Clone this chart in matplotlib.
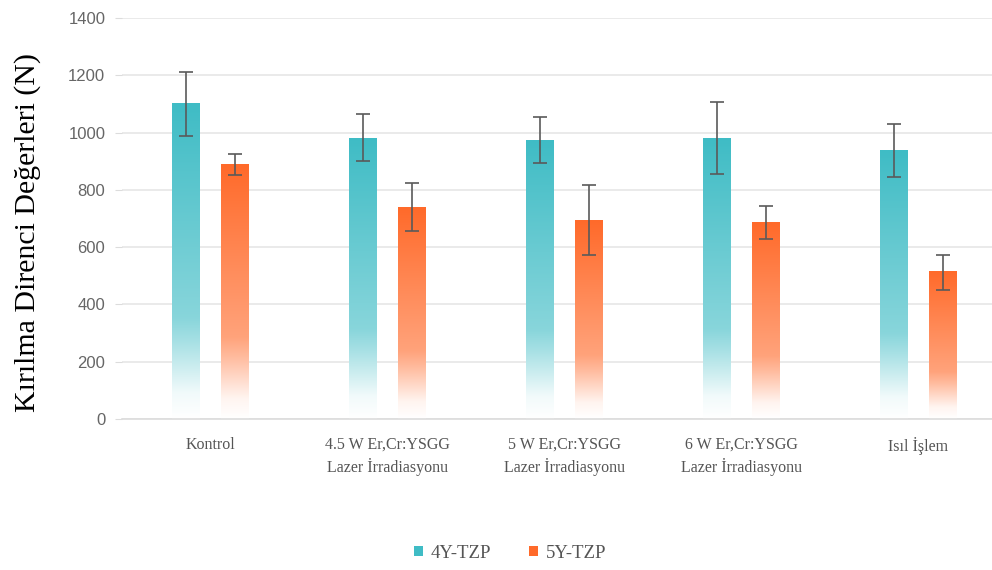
import numpy as np
import matplotlib
matplotlib.use("Agg")
import matplotlib.pyplot as plt
from matplotlib.colors import to_rgb
from matplotlib.patches import Patch

# okunan degerler
kategoriler = ["Kontrol", "4.5 W Er,Cr:YSGG\nLazer İrradiasyonu",
               "5 W Er,Cr:YSGG\nLazer İrradiasyonu",
               "6 W Er,Cr:YSGG\nLazer İrradiasyonu", "Isıl İşlem"]
tzp4_ort = [1100, 980, 972, 980, 936]
tzp4_ust = [1212, 1065, 1056, 1107, 1030]
tzp4_alt = [987, 901, 893, 855, 844]
tzp5_ort = [889, 739, 693, 685, 514]
tzp5_ust = [926, 823, 818, 745, 572]
tzp5_alt = [852, 657, 571, 628, 452]

renk4 = "#3fbcc5"
renk5 = "#ff6a2a"


def gradyan(renk, n=200):
    # alttan uste: beyazdan renge gecis
    f = np.linspace(0, 1, n)
    w = np.interp(f, [0, 0.08, 0.24, 0.32, 1.0], [1.0, 0.93, 0.55, 0.38, 0.0])
    c = np.array(to_rgb(renk))
    rgb = c[None, :] * (1 - w[:, None]) + w[:, None]
    return rgb[::-1][:, None, :]


fig = plt.figure(figsize=(9.92, 5.70), dpi=100)
ax = fig.add_axes([122 / 992, 151 / 570, 870 / 992, 401 / 570])

x = np.arange(len(kategoriler))
gen = 0.158
ofs = 0.136

for ort, ust, alt, renk, kay in [(tzp4_ort, tzp4_ust, tzp4_alt, renk4, -ofs),
                                 (tzp5_ort, tzp5_ust, tzp5_alt, renk5, ofs)]:
    img = gradyan(renk)
    for i, h in enumerate(ort):
        xc = x[i] + kay
        ax.imshow(img, extent=[xc - gen / 2, xc + gen / 2, 0, h],
                  aspect="auto", zorder=2, interpolation="bilinear")
    yerr = [np.array(ort) - np.array(alt), np.array(ust) - np.array(ort)]
    ax.errorbar(x + kay, ort, yerr=yerr, fmt="none", ecolor="#5a5a5a",
                elinewidth=1.2, capsize=5, capthick=1.2, zorder=3)

ax.set_xlim(-0.5, -0.5 + 870 / 177)
ax.set_ylim(0, 1400)
ax.set_yticks(np.arange(0, 1401, 200))
ax.yaxis.grid(True, color="#e6e6e6", linewidth=1.2)
ax.set_axisbelow(True)
for s in ["top", "right", "left"]:
    ax.spines[s].set_visible(False)
ax.spines["bottom"].set_color("#dcdcdc")
ax.spines["bottom"].set_linewidth(1.2)

ax.set_xticks(x)
ax.set_xticklabels(kategoriler, family="Liberation Serif", fontsize=11.5,
                   color="#555555", linespacing=1.38)
ax.tick_params(axis="x", length=0, pad=13)
ax.tick_params(axis="y", length=5, color="#dcdcdc", labelcolor="#666666",
               labelsize=12, pad=7)
for lb in ax.get_yticklabels():
    lb.set_family("Liberation Sans")

fig.text(28 / 992, 1 - 233 / 570, "Kırılma Direnci Değerleri (N)",
         family="Liberation Serif", fontsize=21.5, rotation=90,
         ha="center", va="center", color="black")

el = [Patch(facecolor=renk4, edgecolor="none", label="4Y-TZP"),
      Patch(facecolor=renk5, edgecolor="none", label="5Y-TZP")]
fig.legend(handles=el, loc="center", bbox_to_anchor=(510 / 992, 1 - 553 / 570),
           ncol=2, frameon=False, handlelength=0.5, handleheight=0.5,
           handletextpad=0.4, columnspacing=2.0,
           prop={"family": "Liberation Serif", "size": 13.5}, labelcolor="#555555")

fig.savefig("out.png", dpi=100)
